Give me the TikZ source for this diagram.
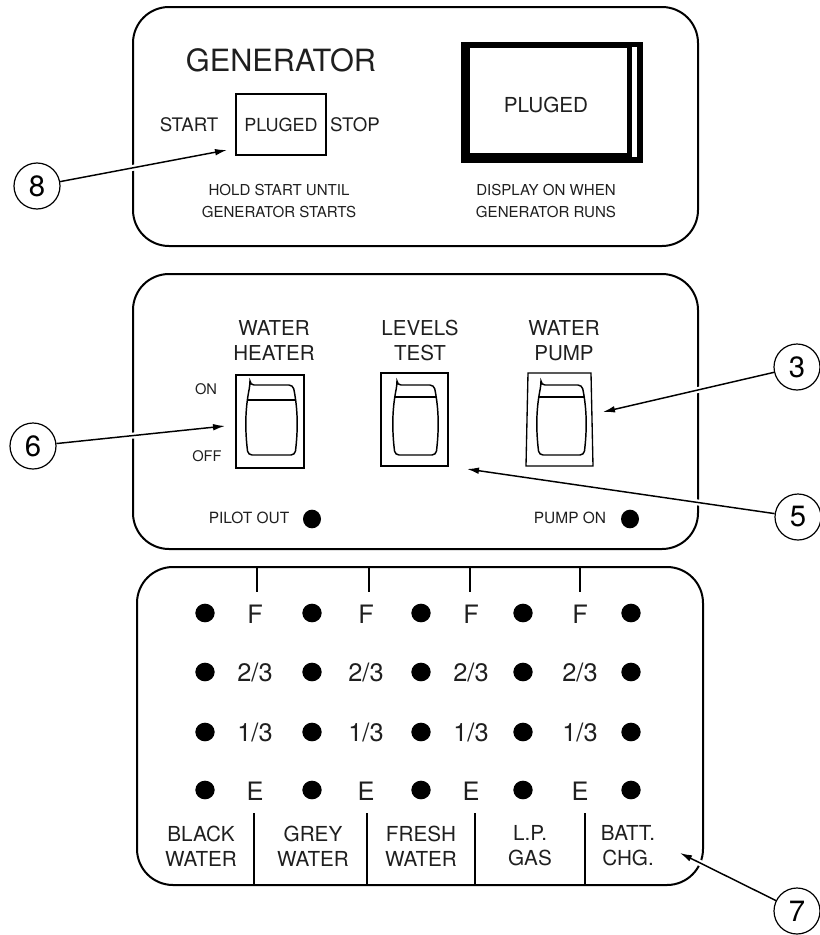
\documentclass[tikz,border=0pt]{standalone}
\usepackage{fontspec}
\setmainfont{TeX Gyre Heros}
\usepackage{tikz}
\usetikzlibrary{arrows.meta,shapes.geometric}
\tikzset{>={Latex[length=9pt,width=5pt]}}
\newcommand{\fsz}[1]{\fontsize{#1}{1.22\dimexpr #1pt\relax}\selectfont}
\tikzset{
	panel/.style={line width=1.5pt,rounded corners=27pt},
	lbl/.style={inner sep=0pt,align=center,text=black!88},
	led/.style={ellipse,fill=black,minimum width=14.5pt,minimum height=14pt,inner sep=0pt},
	callout/.style={circle,draw,line width=0.9pt,minimum size=34.5pt,inner sep=0pt,font=\fsz{22}},
	leader/.style={->,line width=1.1pt,preaction={draw=white,-,line width=4.5pt,shorten <=5pt,shorten >=5pt}},
	swbox/.style={draw,line width=1.5pt},
	rocker/.style={line width=1.1pt,rounded corners=3pt}
}

\begin{document}
\begin{tikzpicture}[x=0.75pt,y=-0.75pt]
					\useasboundingbox (0,0) rectangle (820,935);
					% generator panel
					\draw[panel] (133,7) rectangle (698,246);
					\node[lbl,font=\fsz{23}] (gen) at (281,60) {GENERATOR};
					\node[lbl,font=\fsz{14}] (start) at (189,125) {START};
					\draw[swbox,line width=1.3pt] (236,94) rectangle (326,155);
					\node[lbl,font=\fsz{13.5}] (plug) at (281,125) {PLUGED};
					\node[lbl,font=\fsz{14}] (stop) at (355,125) {STOP};
					\node[lbl,font=\fontsize{11.3}{16}\selectfont] (hold) at (279,201) {HOLD START UNTIL\\GENERATOR STARTS};
					% display window
					\fill[black] (461,42) rectangle (643,163);
					\fill[white] (470,48) rectangle (627,153);
					\fill[white] (632,47) rectangle (637,157);
					\node[lbl,font=\fsz{15.5}] (disp) at (546,105) {PLUGED};
					\node[lbl,font=\fontsize{11.3}{16}\selectfont] (dispnote) at (546,201) {DISPLAY ON WHEN\\GENERATOR RUNS};
					% switch panel
					\draw[panel] (133,274) rectangle (698,549);
					\node[lbl,font=\fontsize{15.4}{18.75}\selectfont] (heater) at (274,341) {WATER\\HEATER};
					\node[lbl,font=\fontsize{15.4}{18.75}\selectfont] (levels) at (420,341) {LEVELS\\TEST};
					\node[lbl,font=\fontsize{15.4}{18.75}\selectfont] (pump) at (564,341) {WATER\\PUMP};
					\node[lbl,font=\fsz{11}] (on) at (206,389) {ON};
					\node[lbl,font=\fsz{11}] (off) at (207,456) {OFF};
					\draw[swbox] (236,375) rectangle (304,468);
					\draw[swbox] (381,373) rectangle (448,466);
					\draw[line width=1pt] (526,466) -- (528,373) -- (591,373) -- (593,466) -- cycle;
					\foreach \xa/\xb/\band in {247/296/400,394/437/397,538/585/397} {
						\draw[rocker] (\xa+3,385) -- (\xb-3,385) .. controls (\xb+2,410) and (\xb+2,430) .. (\xb-1,455) -- (\xa+1,455) .. controls (\xa-2,430) and (\xa-2,410) .. cycle;
						\draw[line width=2pt] (\xa,\band) -- (\xb,\band);
					}
					\node[lbl,font=\fsz{11.6}] (pilot) at (249,518) {PILOT OUT};
					\node[led,minimum width=13.5pt] (pilotled) at (312,519) {};
					\node[lbl,font=\fsz{11.6}] (pumpon) at (570,518) {PUMP ON};
					\node[led,minimum width=13.5pt] (pumpled) at (630,519) {};
					% levels panel
					\draw[panel] (137,567) rectangle (703,885);
					\foreach \x in {257,369,470,580} \draw[line width=1pt] (\x,567) -- (\x,592);
					\foreach \x in {254,367,475,585} \draw[line width=1.3pt] (\x,813) -- (\x,885);
					\foreach \x [count=\i] in {205,312,421,523,631}
						\foreach \y [count=\j] in {613,672,732,790}
							\node[led] (dot\i\j) at (\x,\y) {};
					\foreach \x [count=\i] in {255,366,471,580} {
						\node[lbl,font=\fsz{19},text depth=0pt] (full\i) at (\x,614) {F};
						\node[lbl,font=\fsz{19},text depth=0pt] (twothird\i) at (\x,672) {2/3};
						\node[lbl,font=\fsz{19},text depth=0pt] (third\i) at (\x,732) {1/3};
						\node[lbl,font=\fsz{19},text depth=0pt] (empty\i) at (\x,791) {E};
					}
					\foreach \x/\txt [count=\i] in {201/BLACK\\WATER,313/GREY\\WATER,421/FRESH\\WATER,530/L.P.\\GAS,628/BATT.\\CHG.}
						\node[lbl,font=\fontsize{15.5}{18.75}\selectfont] (tank\i) at (\x,846) {\txt};
					% callouts
					\node[callout] (c8) at (37,186) {8};
					\node[callout] (c6) at (33,446) {6};
					\node[callout] (c3) at (797,367) {3};
					\node[callout] (c5) at (798,517) {5};
					\node[callout] (c7) at (797,911) {7};
					\coordinate (tip8) at (227,150);
					\coordinate (tip6) at (225,426);
					\coordinate (tip3) at (603,412);
					\coordinate (tip5) at (467,469);
					\coordinate (tip7) at (680,853);
					\draw[leader] (c8) -- (tip8);
					\draw[leader] (c6) -- (tip6);
					\draw[leader] (c3) -- (tip3);
					\draw[leader] (c5) -- (tip5);
					\draw[leader] (c7) -- (tip7);
				\end{tikzpicture}
\end{document}
